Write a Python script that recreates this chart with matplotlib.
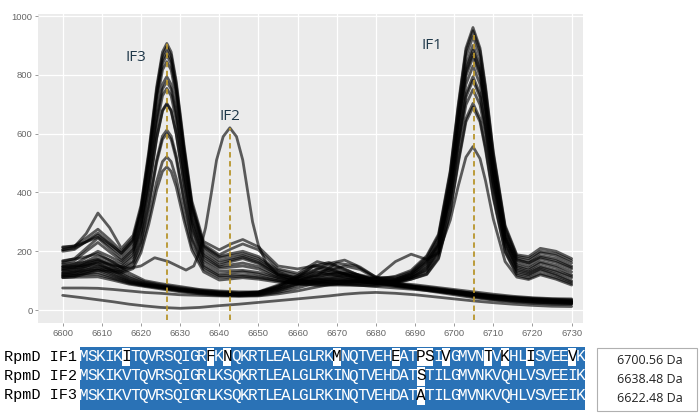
import matplotlib
matplotlib.use("Agg")
import matplotlib.pyplot as plt
from matplotlib.patches import Rectangle

# ---------------- data ----------------
X_HIGH = [6600, 6603, 6606, 6609, 6612, 6615, 6618, 6620, 6622, 6624, 6625.5, 6626.6,
          6627.7, 6629, 6631, 6633, 6636, 6640, 6643, 6646, 6650, 6655, 6660, 6665,
          6670, 6675, 6680, 6685, 6689, 6693, 6696, 6699, 6701, 6703, 6704.8, 6706.6,
          6708, 6710, 6713, 6716, 6719, 6722, 6726, 6730]

h01 = [205,215,260,330,280,210,254,356,540,759,878,907,878,779,562,371,233,205,225,240,215,150,140,152,138,118,105,115,135,185,258,475,695,891,961,891,762,538,288,188,182,210,200,175]
h02 = [212,218,245,275,240,200,244,346,530,748,867,896,867,768,551,361,223,188,208,225,205,140,125,165,148,122,108,112,130,180,252,467,686,881,950,881,752,530,282,183,175,200,192,168]
h03 = [200,206,234,262,228,192,235,333,511,724,839,867,839,743,533,348,214,178,185,192,175,130,105,112,128,122,100,104,125,173,244,455,671,862,930,862,735,517,273,177,168,195,185,160]
h04 = [215,218,232,248,218,186,226,322,497,705,817,845,817,724,518,336,206,168,176,185,168,125,108,118,160,150,112,106,120,164,233,439,648,834,900,834,711,499,262,172,160,185,175,150]
h05 = [165,175,210,245,210,175,213,304,468,663,768,794,768,680,487,317,195,160,170,180,162,120,100,96,100,98,95,102,120,159,227,430,636,819,884,819,698,489,255,161,150,175,162,140]
h06 = [160,168,200,230,198,168,206,295,456,648,752,777,752,665,475,308,187,152,165,175,158,120,112,130,118,104,96,100,115,152,220,421,626,808,873,808,688,480,248,153,142,165,152,130]
h07 = [150,156,178,200,182,162,199,286,442,628,729,754,729,645,461,298,181,147,154,160,148,115,95,90,92,92,90,98,115,146,213,412,615,796,860,796,677,471,240,148,136,160,145,120]
h08 = [142,147,166,185,170,154,189,269,414,587,680,703,680,602,431,281,172,142,146,150,140,110,96,100,110,102,92,96,110,141,206,398,594,768,830,768,653,454,233,142,130,150,135,115]
h09 = [135,140,158,175,160,147,181,262,408,583,677,700,677,598,426,274,164,132,134,135,128,110,100,105,100,97,95,98,110,136,197,381,569,735,794,735,625,435,223,136,126,145,130,110]
h10 = [125,130,148,165,152,142,167,237,362,511,592,612,592,525,377,247,153,122,126,130,122,105,90,86,88,88,86,94,110,131,192,374,559,724,782,724,615,427,217,131,120,140,122,100]
h11 = [120,124,137,150,142,136,162,230,353,501,581,600,581,514,368,240,147,116,118,120,114,100,92,95,98,95,90,94,105,123,178,340,504,651,703,651,554,387,200,124,116,135,118,95]
h12 = [115,118,129,140,136,131,151,209,313,437,505,521,505,448,325,217,139,111,113,115,110,100,88,84,85,84,82,90,105,121,174,334,496,640,691,640,545,380,197,119,108,125,110,90]
h13 = [110,113,124,135,131,126,141,195,292,409,472,487,472,419,304,203,130,102,106,110,105,95,92,92,94,100,110,165,190,172,195,306,420,520,556,515,440,309,165,112,104,120,105,85]
h14 = [205,210,232,255,225,195,239,339,519,735,852,880,852,754,541,353,218,182,192,200,182,135,118,140,130,112,98,105,125,168,221,384,550,698,750,698,600,432,244,169,160,180,168,145]

X_LOW = [6600, 6605, 6609, 6613, 6617, 6621, 6625, 6630, 6635, 6640, 6645, 6650, 6655,
         6660, 6664, 6668, 6672, 6676, 6680, 6685, 6690, 6695, 6700, 6705, 6710, 6715,
         6720, 6725, 6730]

l01 = [168,178,192,162,126,100,90,80,70,65,62,62,75,110,150,162,140,116,102,92,86,78,70,62,54,47,42,39,38]
l02 = [156,161,172,146,116,96,86,76,68,62,58,60,80,118,148,140,122,106,96,88,80,72,65,57,50,44,40,37,35]
l03 = [146,151,160,136,110,92,82,72,65,60,58,62,85,112,132,158,170,146,112,92,82,75,66,57,48,42,36,33,30]
l04 = [136,141,150,126,101,88,80,70,62,57,55,58,76,98,118,128,124,110,98,86,78,70,62,54,46,40,35,31,28]
l05 = [126,131,136,116,96,85,78,68,60,55,52,55,70,90,106,115,118,108,96,85,77,68,60,50,42,36,31,28,26]
l06 = [116,119,121,106,91,82,75,65,58,52,50,52,64,84,98,104,104,100,92,83,75,66,57,47,38,32,27,24,22]
l07 = [111,112,113,101,88,80,72,62,55,50,48,50,60,75,90,98,100,97,90,80,72,62,52,42,34,28,23,20,19]
l08 = [75,75,74,70,65,60,57,52,50,48,47,48,55,65,76,86,92,95,92,85,75,65,55,45,36,30,26,23,22]
l09 = [50,42,35,28,20,14,9,6,9,15,20,26,32,38,43,48,54,58,60,57,52,45,38,31,25,20,16,13,12]
l10 = [140,146,158,132,105,90,82,72,64,58,56,60,82,105,125,135,150,138,108,90,80,72,64,55,47,41,36,32,30]
l11 = [130,134,142,120,98,86,79,69,61,56,54,57,72,95,115,122,120,110,97,86,78,70,61,52,44,38,33,30,28]
l12 = [120,123,128,110,93,84,76,66,59,54,51,54,67,88,102,110,112,105,94,84,76,67,58,49,40,34,29,26,24]

X_IF2 = [6600, 6605, 6609, 6613, 6617, 6620, 6623.5, 6627, 6631.5, 6633.5, 6635, 6636.5,
         6638, 6639.3, 6641, 6642.7, 6644.4, 6646, 6647.3, 6648.5, 6650, 6652, 6655, 6660,
         6665, 6670, 6680, 6690, 6700, 6710, 6720, 6730]
Y_IF2 = [148,152,168,152,142,150,178,165,136,150,200,280,400,510,590,620,590,510,400,300,220,160,120,100,95,90,80,70,58,46,38,33]

PEAK_NAMES = ["IF3", "IF2", "IF1"]
PEAK_MASS = [6626.6, 6642.7, 6705.0]
PEAK_TOP = [907, 620, 935]
LABEL_X = [6618.7, 6642.7, 6694.2]
LABEL_Y = [859, 660, 901]

X_TICKS = [6600, 6610, 6620, 6630, 6640, 6650, 6660, 6670, 6680, 6690, 6700, 6710, 6720, 6730]
Y_TICKS = [0, 200, 400, 600, 800, 1000]

SEQ_NAMES = ["RpmD IF1", "RpmD IF2", "RpmD IF3"]
SEQS = ["MSKIKITQVRSQIGRFKNQKRTLEALGLRKMNQTVEHEATPSIVGMVNTVKHLISVEEVK",
        "MSKIKVTQVRSQIGRLKSQKRTLEALGLRKINQTVEHDATSTILGMVNKVQHLVSVEEIK",
        "MSKIKVTQVRSQIGRLKSQKRTLEALGLRKINQTVEHDATATILGMVNKVQHLVSVEEIK"]
MASSES = ["6700.56 Da", "6638.48 Da", "6622.48 Da"]

# ---------------- figure ----------------
W, H = 700, 413
fig = plt.figure(figsize=(W / 100, H / 100), dpi=100)
ax = fig.add_axes([38 / W, 90 / H, 545 / W, 309 / H])
ax.set_facecolor("#ebebeb")
for s in ax.spines.values():
    s.set_visible(False)
ax.set_xlim(6593.7, 6732.9)
ax.set_ylim(-44, 1007)
ax.set_xticks(X_TICKS)
ax.set_yticks(Y_TICKS)
ax.grid(True, color="white", linewidth=0.9)
ax.set_axisbelow(True)
ax.tick_params(axis="both", colors="#8a8a8a", labelcolor="#666666", labelsize=6.8,
               length=2.5, width=0.6, pad=1.5)
for lab in ax.get_xticklabels() + ax.get_yticklabels():
    lab.set_fontfamily("Liberation Sans")

line_kw = dict(color="black", alpha=0.62, linewidth=2.0, solid_capstyle="round",
               solid_joinstyle="round")
for y in [l01, l02, l03, l04, l05, l06, l07, l08, l09, l10, l11, l12]:
    ax.plot(X_LOW, y, **line_kw)
ax.plot(X_IF2, Y_IF2, **line_kw)
for y in [h13, h12, h11, h10, h09, h08, h07, h06, h05, h14, h04, h03, h02, h01]:
    ax.plot(X_HIGH, y, **line_kw)

for m, top in zip(PEAK_MASS, PEAK_TOP):
    ax.plot([m, m], [-35, top], color="#b8952c", linewidth=1.3, dashes=(3, 2), zorder=5)

for name, lx, ly in zip(PEAK_NAMES, LABEL_X, LABEL_Y):
    ax.text(lx, ly, name, ha="center", va="center", fontsize=11,
            family="Open Sans", color="#20394a", zorder=6)

# ---------------- alignment panel (pixel coordinates) ----------------
ax2 = fig.add_axes([0, 0, 1, 1], zorder=-1)
ax2.set_xlim(0, W)
ax2.set_ylim(H, 0)
ax2.axis("off")

BLUE = "#2a72b6"
x0, cw = 80.0, 505.0 / 60
row_top = [347.0, 366.5, 386.0]
row_h = [19.5, 19.5, 24.0]
ncol = len(SEQS[0])
for r, seq in enumerate(SEQS):
    ax2.add_patch(Rectangle((x0, row_top[r]), cw * ncol, row_h[r], facecolor=BLUE,
                            edgecolor="none"))
    cy = row_top[r] + 9.5
    ax2.text(4, cy, SEQ_NAMES[r], ha="left", va="center", fontsize=11,
             family="Liberation Mono", color="black")
    for c, ch in enumerate(seq):
        col = [s[c] for s in SEQS]
        conserved = col.count(ch) >= 2
        if not conserved:
            ax2.add_patch(Rectangle((x0 + c * cw + 0.3, row_top[r] + 0.6), cw - 0.6, 18.4,
                                    facecolor="white", edgecolor="none"))
        ax2.text(x0 + (c + 0.5) * cw, cy, ch, ha="center", va="center", fontsize=11.6,
                 family="Liberation Mono", color="white" if conserved else "black")

ax2.add_patch(Rectangle((596.5, 348), 100, 63, facecolor="white", edgecolor="#b0b0b0",
                        linewidth=0.8))
for r, m in enumerate(MASSES):
    ax2.text(650, 361 + r * 18.5, m, ha="center", va="center", fontsize=9,
             family="Open Sans", color="#222222")

fig.savefig("out.png", dpi=100)
